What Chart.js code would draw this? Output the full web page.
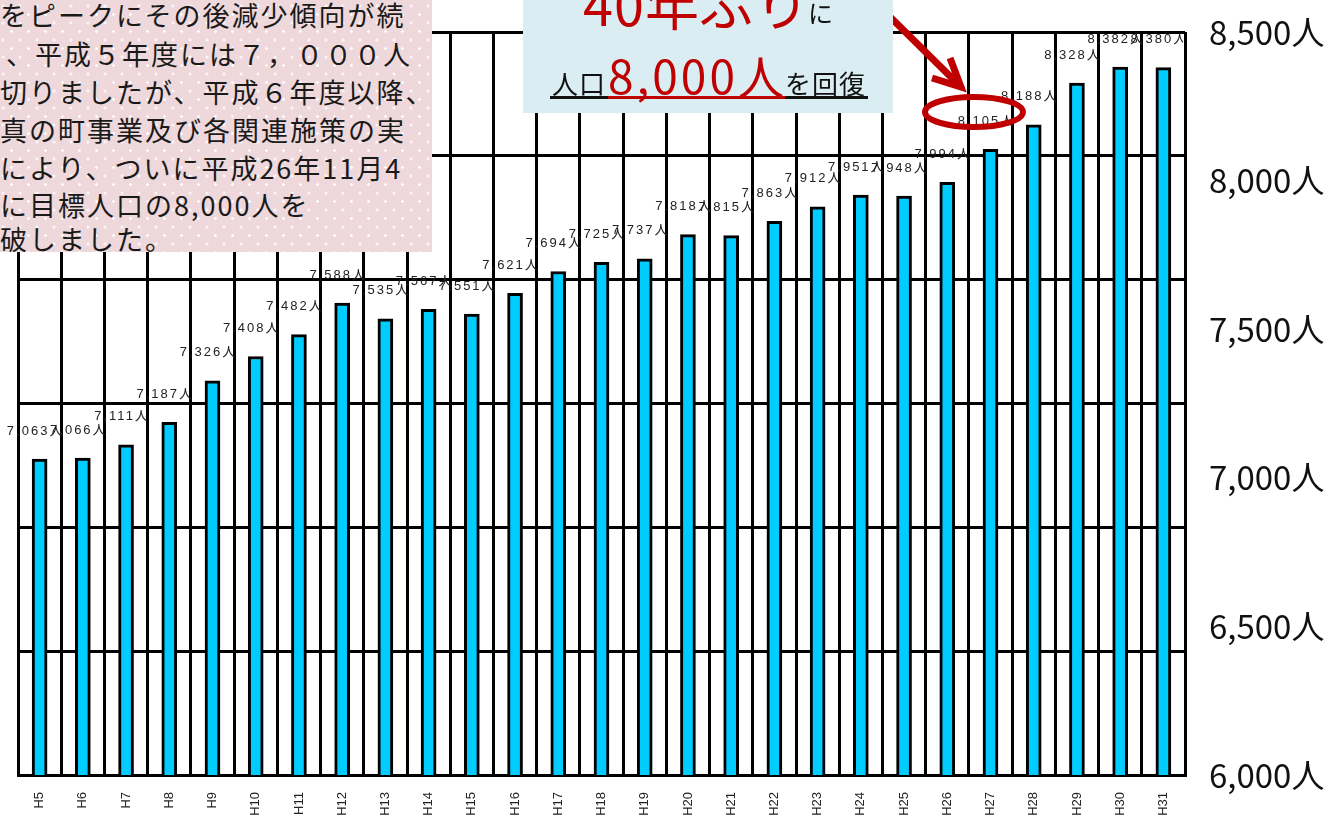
<!DOCTYPE html>
<html><head><meta charset="utf-8">
<script src="https://cdn.jsdelivr.net/npm/chart.js@4/dist/chart.umd.min.js"></script>
<style>
html,body{margin:0;padding:0;background:#fff;}
#wrap{position:relative;width:1332px;height:817px;overflow:hidden;font-family:"Noto Sans CJK JP","Noto Sans",sans-serif;}
#c{position:absolute;left:0;top:0;}
#pink{position:absolute;left:0;top:0;width:432px;height:252px;overflow:hidden;
 background-color:#eed8db;
 background-image:radial-gradient(circle,#ffffff 1px,transparent 1.5px),radial-gradient(circle,#ffffff 1px,transparent 1.5px);
 background-size:17px 17px,17px 17px;background-position:3px 6px,11.5px 14.5px;}
#pink div{position:absolute;white-space:nowrap;font-size:27px;letter-spacing:2px;color:#1a1a1a;line-height:1;}
#blue{position:absolute;left:523px;top:0;width:370px;height:113px;background:#daedf3;overflow:hidden;}
#blue span{position:absolute;white-space:nowrap;line-height:1;}
#svg{position:absolute;left:0;top:0;}
</style></head>
<body><div id="wrap">
<canvas id="c" width="1332" height="817"></canvas>
<svg id="svg" width="1332" height="817">
 <line x1="878" y1="5" x2="958" y2="84" stroke="#c00000" stroke-width="7"/>
 <polyline points="932,78 961,87 950,58" fill="none" stroke="#c00000" stroke-width="7" stroke-linejoin="miter"/>
 <ellipse cx="974" cy="112" rx="49" ry="15" fill="none" stroke="#c00000" stroke-width="6"/>
</svg>
<div id="pink">
 <div style="left:0px;top:1px">をピークにその後減少傾向が続</div>
 <div style="left:6px;top:40px">、平成５年度には７，０００人</div>
 <div style="left:0px;top:78px">切りましたが、平成６年度以降、</div>
 <div style="left:0px;top:116px">真の町事業及び各関連施策の実</div>
 <div style="left:0px;top:154px">により、ついに平成26年11月4</div>
 <div style="left:0px;top:191px">に目標人口の8,000人を</div>
 <div style="left:0px;top:225px">破しました。</div>
</div>
<div id="blue">
 <span style="left:60px;top:-24px;font-size:54px;color:#c00000;letter-spacing:1px">40年ぶり</span>
 <span style="left:285px;top:0px;font-size:25px;color:#111">に</span>
 <span style="left:29px;top:70px;font-size:26px;color:#111;letter-spacing:1px">人口</span>
 <span style="left:85px;top:51px;font-size:46px;color:#c00000;letter-spacing:3px">8,000人</span>
 <span style="left:262px;top:70px;font-size:26px;color:#111;letter-spacing:1px">を回復</span>
 <div style="position:absolute;left:27px;top:96px;width:58px;height:3px;background:#111"></div>
 <div style="position:absolute;left:85px;top:96px;width:177px;height:3px;background:#c00000"></div>
 <div style="position:absolute;left:262px;top:96px;width:83px;height:3px;background:#111"></div>
</div>
</div>
<script>
const categories = ['H5','H6','H7','H8','H9','H10','H11','H12','H13','H14','H15','H16','H17','H18','H19','H20','H21','H22','H23','H24','H25','H26','H27','H28','H29','H30','H31'];
const population = [7063,7066,7111,7187,7326,7408,7482,7588,7535,7567,7551,7621,7694,7725,7737,7818,7815,7863,7912,7951,7948,7994,8105,8188,8328,8382,8380];
const yMin = 6000, yMax = 8500, yStep = 500;
const gridDivisions = 6;

const fmt = v => v.toLocaleString('en-US') + '人';

const labelPlugin = {
  id:'barLabels',
  afterDatasetsDraw(chart){
    const ctx = chart.ctx, area = chart.chartArea;
    const meta = chart.getDatasetMeta(0);
    ctx.save();
    ctx.beginPath();
    ctx.rect(0, 0, area.right-2, chart.height);
    ctx.clip();
    ctx.font = '13px "Liberation Sans", Arial, "Noto Sans CJK JP", sans-serif';
    ctx.fillStyle = '#222';
    ctx.textAlign = 'center';
    ctx.textBaseline = 'middle';
    if ('letterSpacing' in ctx) ctx.letterSpacing = '2px';
    meta.data.forEach((bar,i)=>{
      ctx.fillText(fmt(population[i]), bar.x - 4, bar.y - 28);
    });
    ctx.restore();
  }
};

new Chart(document.getElementById('c'), {
  type:'bar',
  data:{labels:categories, datasets:[{
    data:population, backgroundColor:'#00ccff', borderColor:'#000', borderWidth:3,
    borderSkipped:false, barThickness:15, yAxisID:'y'
  }]},
  options:{
    responsive:false, animation:false,
    layout:{padding:{left:18, top:32, right:0, bottom:0}},
    plugins:{legend:{display:false}, tooltip:{enabled:false}},
    scales:{
      x:{
        offset:true,
        grid:{display:true, offset:true, color:'#000', lineWidth:3, drawTicks:false},
        border:{display:true, color:'#000', width:3},
        ticks:{minRotation:90, maxRotation:90, padding:17, color:'#222', autoSkip:false,
          font:{size:13, family:'"Liberation Sans", Arial, sans-serif'}},
        afterFit(s){ s.height = 42; s.paddingLeft = 0; s.paddingRight = 0; }
      },
      y:{
        position:'right', min:yMin, max:yMax,
        grid:{display:false, drawTicks:false}, border:{display:false},
        ticks:{stepSize:yStep, padding:24, color:'#111', callback:v=>fmt(v),
          font:{size:33, family:'"Noto Sans CJK JP","Noto Sans",sans-serif'}},
        afterFit(s){ s.width = 147; s.paddingTop = 0; s.paddingBottom = 0; }
      },
      y2:{
        position:'left', min:0, max:gridDivisions,
        grid:{color:'#000', lineWidth:3, drawTicks:false},
        border:{display:false},
        ticks:{display:false, stepSize:1},
        afterFit(s){ s.width = 0; s.paddingTop = 0; s.paddingBottom = 0; }
      }
    }
  },
  plugins:[labelPlugin]
});
</script>
</body></html>
